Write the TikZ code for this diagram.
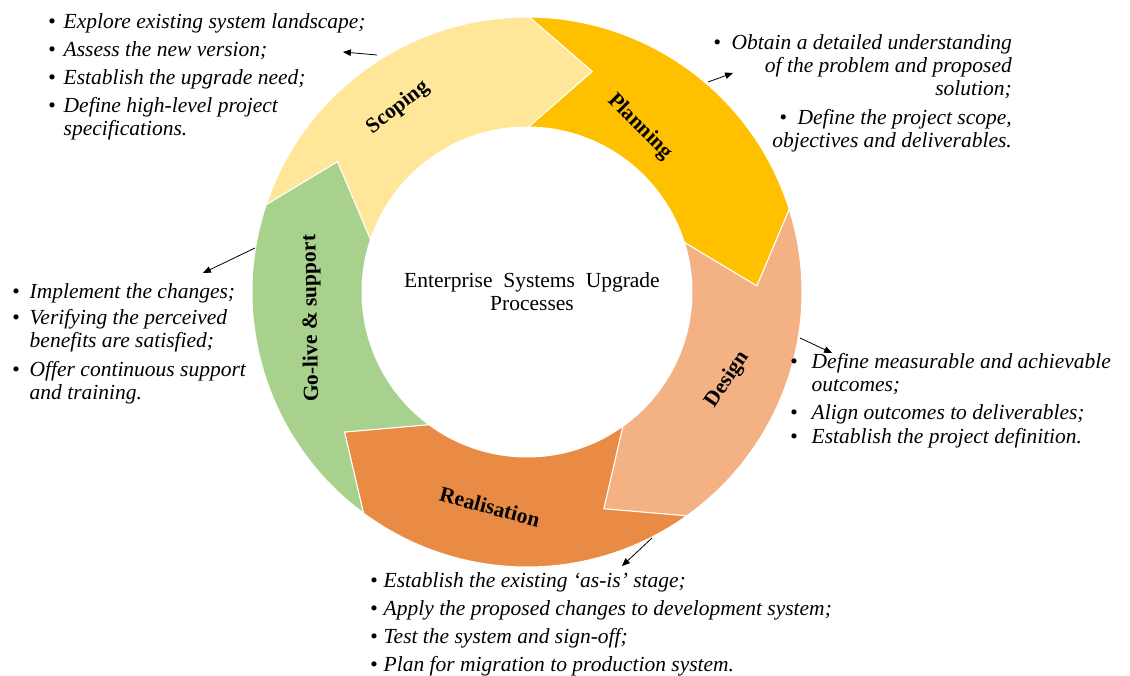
\documentclass[tikz,border=0pt]{standalone}
\usepackage{fontspec}
\setmainfont{Liberation Serif}
\usetikzlibrary{arrows}

\definecolor{scopeC}{HTML}{FFE699}
\definecolor{planC}{HTML}{FFC000}
\definecolor{designC}{HTML}{F4B183}
\definecolor{realC}{HTML}{E98B45}
\definecolor{goC}{HTML}{A9D18E}

\begin{document}
\begin{tikzpicture}[%
    x=1pt, y=1pt,
    >=triangle 45,              % small filled tips
    ]

\tikzset{
  seg/.style={draw=white, line width=1pt},
  stage/.style={font=\fontsize{21.5}{24}\selectfont\bfseries, inner sep=0pt},
  list/.style={font=\fontsize{21.5}{23}\selectfont\itshape, inner sep=0pt},
  ptr/.style={->, line width=0.8pt}
  };

\useasboundingbox (-527,-383) rectangle (603,292);

% RING of curved arrows
\foreach \s/\c in {161.5/scopeC, 89.5/planC, 17.5/designC, -54.5/realC, -126.5/goC}
  \draw[seg, fill=\c] (\s:275) arc[start angle=\s, delta angle=-72, radius=275]
    -- (\s-88:230) -- (\s-72:165) arc[start angle=\s-72, delta angle=72, radius=165]
    -- (\s-16:230) -- cycle;

\node[font=\fontsize{21.5}{23}\selectfont, align=center] (title) at (5,0)
  {Enterprise\ \ Systems\ \ Upgrade\\ Processes};

% STAGES
\node[stage, rotate=38] (scoping) at (125:225) {Scoping};
\node[stage, rotate=-45] (planning) at (55.6:200) {Planning};
\node[stage, rotate=56] (design) at (-23.6:219) {Design};
\node[stage, rotate=-15] (realisation) at (-99.8:218) {Realisation};
\node[stage, rotate=91] (goLive) at (187:217) {Go-live \& support};

% LISTS
\node[list, anchor=base west] (scopingList) at (-479,263) {%
  \begin{tabular}[t]{@{}l@{\hspace{8pt}}l@{}}
  \textbullet & Explore existing system landscape;\\[5pt]
  \textbullet & Assess the new version;\\[5pt]
  \textbullet & Establish the upgrade need;\\[5pt]
  \textbullet & Define high-level project\\
              & specifications.
  \end{tabular}};

\node[list, anchor=base east] (planningList) at (485,242) {%
  \begin{tabular}[t]{@{}r@{}}
  \textbullet\ \ Obtain a detailed understanding\\
  of the problem and proposed\\
  solution;\\[6pt]
  \textbullet\ \ Define the project scope,\\
  objectives and deliverables.
  \end{tabular}};

\node[list, anchor=base west] (designList) at (263,-76) {%
  \begin{tabular}[t]{@{}l@{\hspace{14pt}}l@{}}
  \textbullet & Define measurable and achievable\\
              & outcomes;\\[5pt]
  \textbullet & Align outcomes to  deliverables;\\[1pt]
  \textbullet & Establish the project definition.
  \end{tabular}};

\node[list, anchor=base west] (realisationList) at (-157,-295) {%
  \begin{tabular}[t]{@{}l@{\hspace{6pt}}l@{}}
  \textbullet & Establish the existing `as-is' stage;\\[5pt]
  \textbullet & Apply the proposed changes to development system;\\[5pt]
  \textbullet & Test the system and sign-off;\\[5pt]
  \textbullet & Plan for migration to production system.
  \end{tabular}};

\node[list, anchor=base west] (goLiveList) at (-515,-6) {%
  \begin{tabular}[t]{@{}l@{\hspace{10pt}}l@{}}
  \textbullet & Implement the changes;\\[3pt]
  \textbullet & Verifying the perceived\\
              & benefits are satisfied;\\[6pt]
  \textbullet & Offer continuous support\\
              & and training.
  \end{tabular}};

% POINTERS
\coordinate (scopingTail) at (-150,237);
\coordinate (scopingHead) at (-184,240);
\coordinate (planningTail) at (181,210);
\coordinate (planningHead) at (206,219);
\coordinate (designTail) at (273,-46);
\coordinate (designHead) at (305,-61);
\coordinate (realisationTail) at (125,-246);
\coordinate (realisationHead) at (95,-274);
\coordinate (goLiveTail) at (-272,44);
\coordinate (goLiveHead) at (-324,19);

\draw[ptr] (scopingTail) -- (scopingHead);
\draw[ptr] (planningTail) -- (planningHead);
\draw[ptr] (designTail) -- (designHead);
\draw[ptr] (realisationTail) -- (realisationHead);
\draw[ptr] (goLiveTail) -- (goLiveHead);

\end{tikzpicture}
\end{document}
